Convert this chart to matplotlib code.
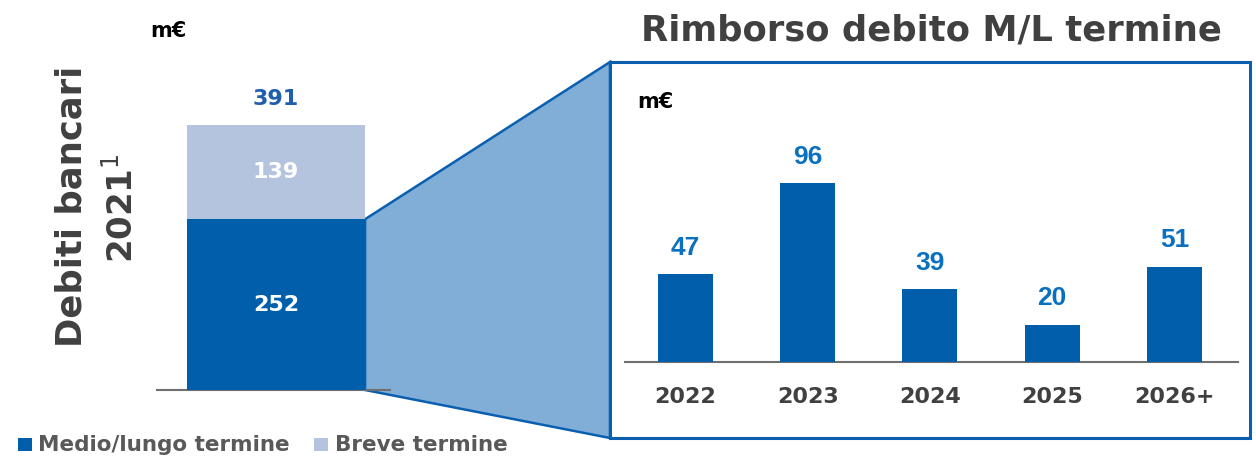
import matplotlib
matplotlib.use("Agg")
import matplotlib.pyplot as plt
from matplotlib.patches import Polygon, Rectangle

# data
stack_labels = ["Medio/lungo termine", "Breve termine"]
stack_values = [252, 139]
years = ["2022", "2023", "2024", "2025", "2026+"]
repay = [47, 96, 39, 20, 51]

DARK = "#005EAB"
LIGHT = "#B4C4DE"
FUNNEL = "#80AED6"
EDGE = "#0A5FB0"
GREY = "#404040"

W, H = 1256, 469
fig = plt.figure(figsize=(W / 100, H / 100), dpi=100)
plt.rcParams['font.family'] = ['DejaVu Sans']


def px_axes(x0, y0, x1, y1):
    # pixel box (top-left origin) -> figure axes
    return fig.add_axes([x0 / W, 1 - y1 / H, (x1 - x0) / W, (y1 - y0) / H])


# left stacked bar
axl = px_axes(157, 60, 390, 390)
axl.set_zorder(3)
axl.bar([0], [stack_values[0]], width=1, color=DARK, zorder=3)
axl.bar([0], [stack_values[1]], bottom=[stack_values[0]], width=1, color=LIGHT, zorder=3)
axl.set_xlim(-0.669, 0.640)
axl.set_ylim(0, 330 / 0.6777)
for s in ["top", "right", "left"]:
    axl.spines[s].set_visible(False)
axl.spines["bottom"].set_color("#6F6F6F")
axl.spines["bottom"].set_linewidth(1.5)
axl.set_xticks([])
axl.set_yticks([])
axl.patch.set_alpha(0)

axl.text(0, stack_values[0] / 2, str(stack_values[0]), ha="center", va="center",
         color="white", fontsize=16, fontweight="bold")
axl.text(0, stack_values[0] + stack_values[1] / 2, str(stack_values[1]), ha="center",
         va="center", color="white", fontsize=16, fontweight="bold")
total = sum(stack_values)
axl.annotate(str(total), (0, total), xytext=(0, 19), textcoords="offset points",
             ha="center", va="center", color="#1F5FAD", fontsize=16, fontweight="bold")

fig.text(168 / W, 1 - 31 / H, "m€", ha="center", va="center", fontsize=15,
         fontweight="bold", color="black")
fig.text(72 / W, 1 - 206 / H, "Debiti bancari", rotation=90, ha="center", va="center",
         fontsize=25.5, fontweight="bold", color=GREY)
fig.text(122 / W, 1 - 208 / H, "2021$^{1}$", rotation=90, ha="center", va="center",
         fontsize=24.5, fontweight="bold", color=GREY)

# funnel from the dark segment to the box
to_fig = axl.transData + fig.transFigure.inverted()
tx, ty = to_fig.transform((0.5, stack_values[0]))
bx, by = to_fig.transform((0.5, 0))
box_l, box_r = 610 / W, 1250 / W
box_t, box_b = 1 - 62 / H, 1 - 438 / H
fig.patches.append(Polygon([(tx, ty), (box_l, box_t), (box_l, box_b), (bx, by)],
                           closed=True, transform=fig.transFigure, facecolor=FUNNEL,
                           edgecolor=EDGE, linewidth=1.8, zorder=1))
fig.patches.append(Rectangle((box_l, box_b), box_r - box_l, box_t - box_b,
                             transform=fig.transFigure, facecolor="white",
                             edgecolor=EDGE, linewidth=2.2, zorder=1))

fig.text(931 / W, 1 - 31 / H, "Rimborso debito M/L termine", ha="center", va="center",
         fontsize=25.5, fontweight="bold", color=GREY)

# right bar chart
axr = px_axes(625, 130, 1238, 362)
axr.set_zorder(3)
xs = list(range(len(years)))
axr.bar(xs, repay, width=0.45, color=DARK, zorder=3)
axr.set_xlim(-0.495, 4.52)
axr.set_ylim(0, 232 / 1.865)
for s in ["top", "right", "left"]:
    axr.spines[s].set_visible(False)
axr.spines["bottom"].set_color("#6F6F6F")
axr.spines["bottom"].set_linewidth(1.5)
axr.set_yticks([])
axr.set_xticks(xs)
axr.set_xticklabels(years, fontsize=16, fontweight="bold", color=GREY)
axr.tick_params(axis="x", length=0, pad=18)
axr.patch.set_alpha(0)
for x, v in zip(xs, repay):
    axr.annotate(str(v), (x, v), xytext=(0, 19), textcoords="offset points",
                 ha="center", va="center", color="#0A70C0", fontsize=19,
                 fontweight="bold", family="Liberation Sans")

fig.text(655 / W, 1 - 102 / H, "m€", ha="center", va="center", fontsize=15,
         fontweight="bold", color="black")

# legend
fig.patches.append(Rectangle((18 / W, 1 - 451 / H), 14 / W, 13 / H, transform=fig.transFigure,
                             facecolor=DARK, edgecolor="none"))
fig.text(38 / W, 1 - 445 / H, stack_labels[0], ha="left", va="center", fontsize=15.5,
         fontweight="bold", color="#595959")
fig.patches.append(Rectangle((314 / W, 1 - 451 / H), 14 / W, 13 / H, transform=fig.transFigure,
                             facecolor=LIGHT, edgecolor="none"))
fig.text(335 / W, 1 - 445 / H, stack_labels[1], ha="left", va="center", fontsize=15.5,
         fontweight="bold", color="#595959")

fig.savefig("out.png", dpi=100)
